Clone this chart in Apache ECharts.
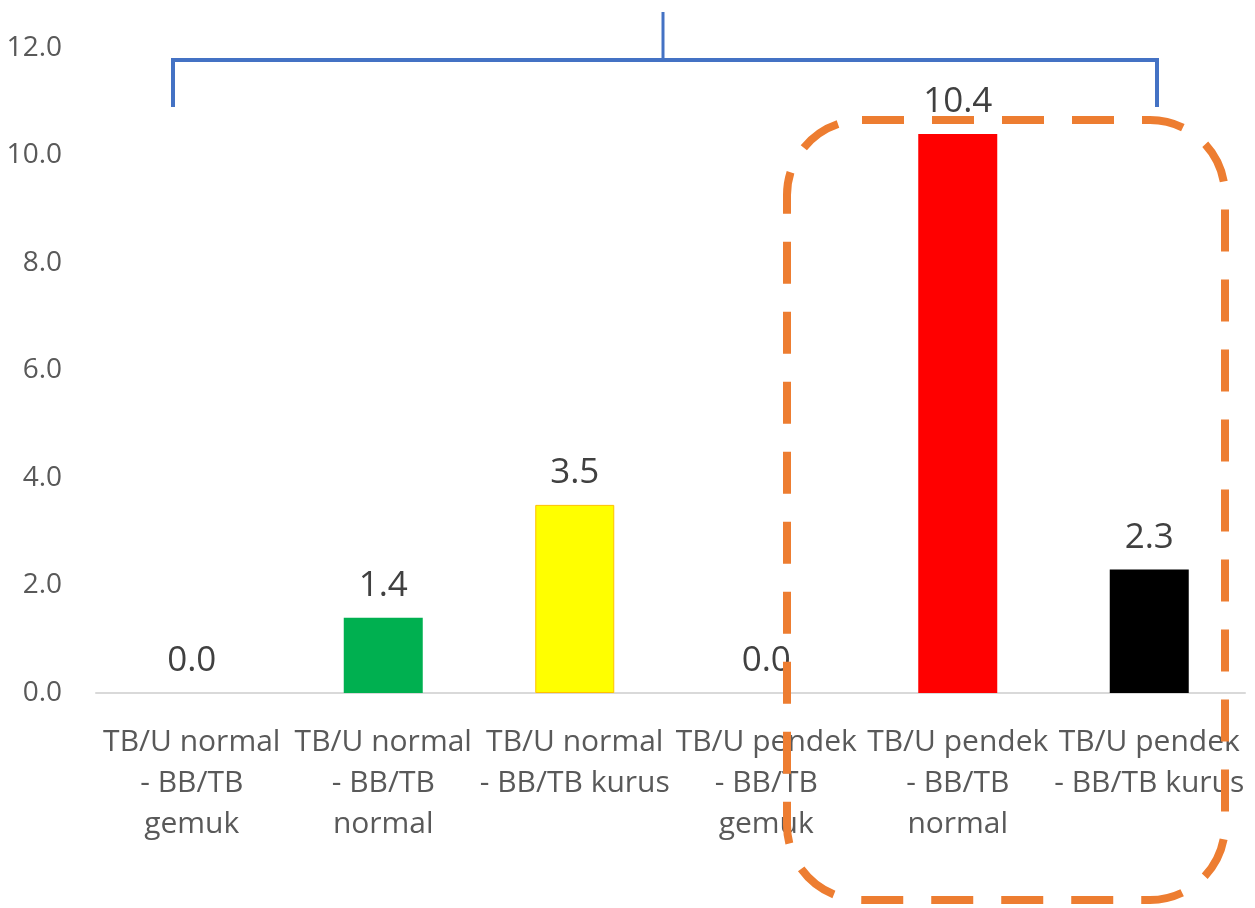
<!DOCTYPE html>
<html>
<head>
<meta charset="utf-8">
<script src="https://cdn.jsdelivr.net/npm/echarts@6/dist/echarts.min.js"></script>
<style>
  html, body { margin: 0; padding: 0; background: #ffffff; }
  #chart { width: 1255px; height: 908px; }
</style>
</head>
<body>
<div id="chart"></div>
<script>

// categories and values
var categories = [
    'TB/U normal\n- BB/TB\ngemuk',
    'TB/U normal\n- BB/TB\nnormal',
    'TB/U normal\n- BB/TB kurus',
    'TB/U pendek\n- BB/TB\ngemuk',
    'TB/U pendek\n- BB/TB\nnormal',
    'TB/U pendek\n- BB/TB kurus'
];
var values = [0.0, 1.4, 3.5, 0.0, 10.4, 2.3];
var barColors = ['#a5a5a5', '#00b050', '#ffff00', '#a5a5a5', '#ff0000', '#000000'];
var yTicks = [0, 12, 2]; // min, max, interval

var myChart = echarts.init(document.getElementById('chart'));

var barData = values.map(function (v, i) {
    return {
        value: v,
        itemStyle: {
            color: barColors[i],
            borderColor: i === 2 ? '#ffc000' : barColors[i],
            borderWidth: i === 2 ? 1 : 0
        }
    };
});

var option = {
    animation: false,
    grid: {
        left: 96,
        right: 10,
        top: 48,
        bottom: 215
    },
    xAxis: {
        type: 'category',
        data: categories,
        axisLine: { lineStyle: { color: '#d9d9d9', width: 2 } },
        axisTick: { show: false },
        axisLabel: {
            interval: 0,
            margin: 29,
            color: '#595959',
            fontFamily: 'Open Sans',
            fontSize: 30,
            lineHeight: 41
        }
    },
    yAxis: {
        type: 'value',
        min: yTicks[0],
        max: yTicks[1],
        interval: yTicks[2],
        splitLine: { show: false },
        axisLine: { show: false },
        axisTick: { show: false },
        axisLabel: {
            margin: 34,
            color: '#595959',
            fontFamily: 'Open Sans',
            fontSize: 28,
            formatter: function (v) { return v.toFixed(1); }
        }
    },
    series: [{
        type: 'bar',
        barWidth: 79,
        data: barData,
        label: {
            show: true,
            position: 'top',
            distance: 14,
            color: '#404040',
            fontFamily: 'Open Sans',
            fontSize: 35,
            formatter: function (p) { return p.value.toFixed(1); }
        }
    }],
    // annotations drawn on top of the chart
    graphic: [
        {
            type: 'polyline',
            shape: { points: [[173, 107], [173, 60], [1157, 60], [1157, 107]] },
            style: { stroke: '#4472c4', lineWidth: 4, fill: null }
        },
        {
            type: 'line',
            shape: { x1: 663, y1: 12, x2: 663, y2: 60 },
            style: { stroke: '#4472c4', lineWidth: 3 }
        },
        {
            type: 'rect',
            z: 100,
            shape: { x: 787, y: 120, width: 438, height: 780, r: 75 },
            style: {
                fill: null,
                stroke: '#ed7d31',
                lineWidth: 8,
                lineDash: [42, 28]
            }
        }
    ]
};

myChart.setOption(option);
</script>
</body>
</html>
